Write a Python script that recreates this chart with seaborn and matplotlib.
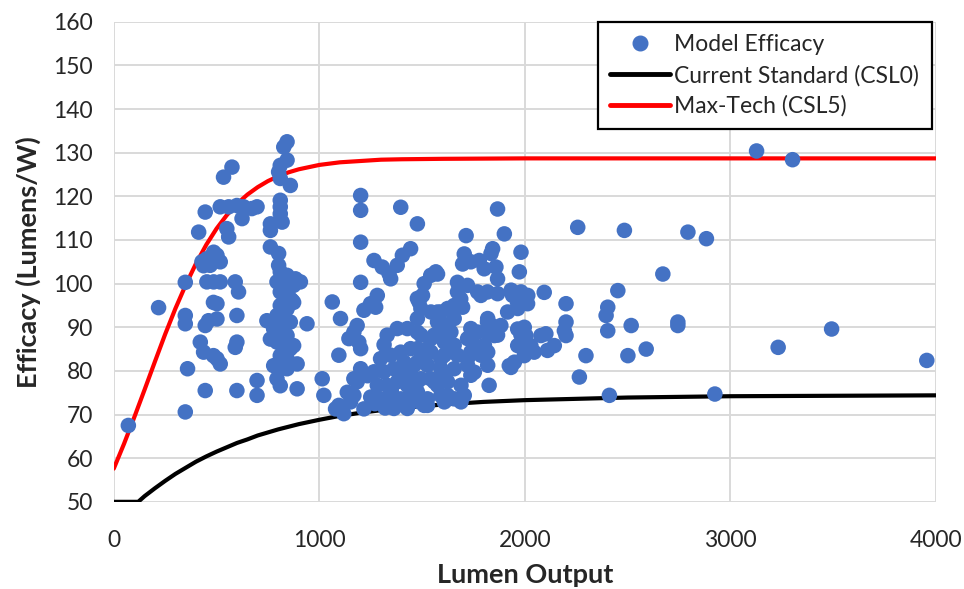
import numpy as np
import pandas as pd
import matplotlib
matplotlib.use("Agg")
import matplotlib.pyplot as plt
import seaborn as sns
from matplotlib.lines import Line2D

# ---- scatter data (lumens, lm/W) ----
# left fan, below ~700 lm
lum_a = [71, 348, 218, 348, 348, 348, 359, 445, 413, 534, 575, 518, 559, 599, 632, 624, 697, 672,
         550, 559, 453, 486, 518, 429, 469, 502, 437, 453, 486, 518, 591, 607, 485, 502, 461, 502,
         445, 599, 421, 437, 485, 518, 502, 599, 591, 445, 599, 697, 697]
eff_a = [67.5, 70.6, 94.5, 100.3, 92.7, 90.8, 80.5, 116.4, 111.8, 124.4, 126.7, 117.6, 117.6, 117.9,
         117.6, 114.9, 117.6, 117.2, 112.6, 110.7, 105.7, 107.2, 105.0, 105.0, 104.2, 106.5, 104.1,
         100.4, 100.4, 100.4, 100.4, 98.1, 95.7, 95.4, 91.5, 91.9, 90.4, 92.7, 86.6, 84.3, 83.5, 81.6,
         82.8, 86.6, 85.4, 75.5, 75.5, 77.8, 74.4]

# column around 800 lm
lum_b = [843, 827, 843, 810, 802, 810, 859, 810, 810, 810, 819, 762, 762, 762, 802, 802, 810, 843,
         884, 875, 794, 827, 810, 827, 859, 810, 843, 875, 794, 827, 859, 778, 810, 843, 794, 827,
         859, 810, 843, 778, 810, 843, 794, 810, 875, 827, 843, 745, 762, 892, 892, 940, 908, 868,
         1014, 1022, 1063]
eff_b = [132.5, 131.3, 128.3, 127.1, 125.6, 124.1, 122.5, 119.1, 117.6, 116.0, 114.1, 113.7, 112.2,
         108.4, 106.9, 104.2, 102.7, 101.9, 101.1, 99.6, 100.4, 99.6, 98.1, 97.3, 96.5, 95.0, 94.2,
         95.7, 92.7, 91.9, 91.2, 89.6, 88.9, 88.1, 86.6, 85.8, 85.1, 83.5, 82.8, 81.2, 80.5, 80.5,
         78.2, 76.6, 85.8, 90.4, 84.3, 91.5, 87.3, 81.6, 75.9, 90.8, 100.4, 96.1, 78.2, 74.4, 95.8]

# dense cloud 1000-1500 lm
lum_c = [1201, 1201, 1201, 1201, 1396, 1477, 1266, 1306, 1339, 1347, 1379, 1404, 1444, 1282, 1249,
         1217, 1274, 1103, 1184, 1168, 1144, 1192, 1201, 1095, 1201, 1184, 1152, 1079, 1119, 1168,
         1136, 1217, 1095, 1234, 1168, 1330, 1379, 1428, 1477, 1298, 1347, 1396, 1444, 1266, 1314,
         1363, 1412, 1461, 1282, 1330, 1379, 1428, 1477, 1298, 1347, 1396, 1444, 1363, 1428, 1315,
         1412, 1445, 1350, 1410, 1480, 1250, 1270, 1320]
eff_c = [120.2, 116.8, 109.5, 100.3, 117.5, 113.7, 105.3, 103.8, 102.3, 101.1, 104.2, 106.5, 108.0,
         97.3, 95.4, 93.9, 94.6, 92.0, 90.4, 88.9, 87.4, 86.6, 85.1, 83.6, 80.5, 77.5, 72.9, 71.3,
         70.2, 74.4, 75.1, 71.3, 72.1, 78.9, 78.2, 88.2, 89.7, 89.7, 88.9, 82.8, 83.6, 84.3, 85.1,
         79.8, 79.8, 80.5, 80.5, 81.3, 76.7, 76.7, 77.5, 76.7, 77.5, 73.6, 72.9, 73.6, 74.4, 71.4,
         71.4, 86.0, 82.0, 79.0, 75.5, 78.5, 73.0, 74.0, 72.5, 71.5]

# cloud 1500-2000 lm
lum_d = [1526, 1542, 1494, 1526, 1559, 1591, 1575, 1624, 1656, 1689, 1640, 1624, 1591, 1607, 1575,
         1624, 1705, 1754, 1721, 1754, 1770, 1819, 1819, 1542, 1575, 1502, 1485, 1672, 1721, 1688,
         1656, 1802, 1770, 1818, 1867, 1940, 1916, 1818, 1883, 1851, 1826, 1924, 1965, 1965, 1714,
         1705, 1697, 1867, 1900, 1843, 1981, 1835, 1973, 1737, 1778, 1859, 1567, 1510, 1672, 1697,
         1786, 1867, 1933, 1981, 2014, 1965, 1477, 1494, 1477, 1543, 1591, 1575, 1608, 1737, 1721,
         1819, 1835, 1819, 1867, 1803, 1981, 1998, 1998, 1494, 1543, 1608, 1656, 1477, 1543, 1608,
         1672, 1737, 1786, 1477, 1526, 1591, 1656, 1721, 1949, 1494, 1559, 1624, 1689, 1737, 1477,
         1526, 1591, 1656, 1510, 1608, 1689]
eff_d = [72.1, 78.2, 82.8, 85.1, 88.2, 91.2, 93.5, 94.3, 92.0, 95.0, 88.9, 85.9, 82.8, 79.7, 76.7,
         74.4, 74.4, 79.7, 82.8, 85.9, 88.9, 84.3, 81.3, 101.9, 102.2, 97.3, 95.8, 100.3, 99.6, 96.5,
         95.0, 103.4, 98.1, 98.1, 101.1, 97.3, 93.5, 91.2, 90.4, 88.1, 76.7, 81.2, 89.6, 85.8, 111.0,
         106.8, 104.5, 117.1, 111.4, 108.0, 107.2, 106.9, 102.7, 105.0, 105.3, 103.8, 102.7, 100.0,
         98.1, 94.6, 97.3, 97.7, 98.5, 98.1, 97.3, 94.3, 96.6, 94.3, 92.0, 93.5, 93.5, 91.2, 89.7,
         89.7, 87.4, 92.0, 90.5, 88.9, 88.2, 85.9, 88.2, 85.9, 87.4, 88.2, 87.4, 86.6, 85.9, 85.1,
         84.3, 83.6, 83.6, 84.3, 83.6, 82.0, 81.3, 80.5, 80.5, 81.3, 82.0, 78.2, 77.5, 77.5, 76.7,
         79.0, 75.2, 73.6, 74.4, 73.6, 72.1, 72.9, 72.9]

# sparse right side, above 2000 lm
lum_e = [2257, 2484, 2793, 2883, 2671, 2094, 2452, 2013, 1964, 2200, 2403, 2395, 2200, 2192, 2200,
         1997, 2005, 1997, 2029, 2078, 2102, 2143, 2110, 2045, 1997, 2517, 2403, 2744, 2744, 2590,
         2297, 2501, 1932, 2265, 2411, 3232, 3492, 3955, 2924, 3127, 3302]
eff_e = [112.9, 112.2, 111.8, 110.3, 102.2, 98.0, 98.4, 95.4, 95.7, 95.4, 94.6, 92.7, 91.2, 89.2,
         88.1, 90.0, 88.1, 86.6, 85.8, 88.1, 88.5, 85.8, 84.7, 84.3, 83.5, 90.4, 89.2, 91.2, 90.4,
         85.0, 83.5, 83.5, 80.8, 78.6, 74.4, 85.4, 89.6, 82.4, 74.7, 130.4, 128.4]

# ---- standard curves ----
csl0_lum = [0, 100, 119, 150, 200, 250, 300, 350, 400, 450, 500, 550, 600, 650, 700, 750, 800,
            900, 1000, 1100, 1200, 1300, 1400, 1600, 1800, 2000, 2500, 3000, 4000]
csl0_eff = [50.0, 50.0, 50.0, 51.3, 53.1, 54.8, 56.4, 57.8, 59.2, 60.4, 61.5, 62.5, 63.5, 64.3,
            65.2, 65.9, 66.6, 67.8, 68.8, 69.7, 70.4, 71.0, 71.5, 72.3, 72.9, 73.3, 73.9, 74.2,
            74.4]
csl5_lum = [0, 50, 100, 150, 200, 250, 300, 350, 400, 450, 500, 550, 600, 650, 700, 750, 800,
            850, 900, 950, 1000, 1100, 1200, 1300, 1400, 1600, 2000, 4000]
csl5_eff = [57.6, 63.3, 69.4, 75.7, 82.1, 88.4, 94.3, 99.7, 104.6, 108.9, 112.6, 115.7, 118.3,
            120.4, 122.1, 123.5, 124.6, 125.5, 126.2, 126.7, 127.2, 127.8, 128.1, 128.4, 128.5,
            128.6, 128.7, 128.7]

df_pts = pd.DataFrame({
    "lumens": lum_a + lum_b + lum_c + lum_d + lum_e,
    "efficacy": eff_a + eff_b + eff_c + eff_d + eff_e,
})
df_csl0 = pd.DataFrame({"lumens": csl0_lum, "efficacy": csl0_eff})
df_csl5 = pd.DataFrame({"lumens": csl5_lum, "efficacy": csl5_eff})

sns.set_style("white")
plt.rcParams['font.family'] = ['Lato', 'DejaVu Sans']

BLUE = "#4472C4"
fig = plt.figure(figsize=(9.64, 5.89), dpi=100)
ax = fig.add_axes([0.118, 0.148, 0.853, 0.815])

sns.scatterplot(data=df_pts, x="lumens", y="efficacy", ax=ax, s=125, color=BLUE,
                edgecolor="none", linewidth=0, zorder=3, legend=False)
sns.lineplot(data=df_csl0, x="lumens", y="efficacy", ax=ax, color="black", linewidth=3,
             zorder=2, legend=False)
sns.lineplot(data=df_csl5, x="lumens", y="efficacy", ax=ax, color="#FF0000", linewidth=3,
             zorder=2, legend=False)

ax.set_xlim(0, 4000)
ax.set_ylim(50, 160)
ax.set_xticks(range(0, 4001, 1000))
ax.set_yticks(range(50, 161, 10))
ax.grid(True, color="#D9D9D9", linewidth=1.4)
ax.set_axisbelow(True)
for sp in ax.spines.values():
    sp.set_visible(False)
ax.tick_params(axis="both", length=0, labelsize=16.5, colors="#262626")
ax.tick_params(axis="y", pad=15)
ax.tick_params(axis="x", pad=20)

ax.set_xlabel("Lumen Output", fontsize=19.5, fontweight="bold", labelpad=9)
ax.set_ylabel("Efficacy (Lumens/W)", fontsize=19.5, fontweight="bold", labelpad=9)

handles = [
    Line2D([], [], linestyle="none", marker="o", markersize=10.5, color=BLUE),
    Line2D([], [], color="black", linewidth=3.5),
    Line2D([], [], color="#FF0000", linewidth=3.5),
]
leg = ax.legend(handles, ["Model Efficacy", "Current Standard (CSL0)", "Max-Tech (CSL5)"],
                loc="upper right", bbox_to_anchor=(0.995, 1.0), fontsize=16.5, frameon=True,
                fancybox=False, handlelength=2.6, handletextpad=0.2, borderpad=0.55,
                labelspacing=0.4, borderaxespad=0)
leg.get_frame().set_edgecolor("black")
leg.get_frame().set_linewidth(1.6)
leg.get_frame().set_alpha(1)

fig.savefig("out.png", dpi=100)
